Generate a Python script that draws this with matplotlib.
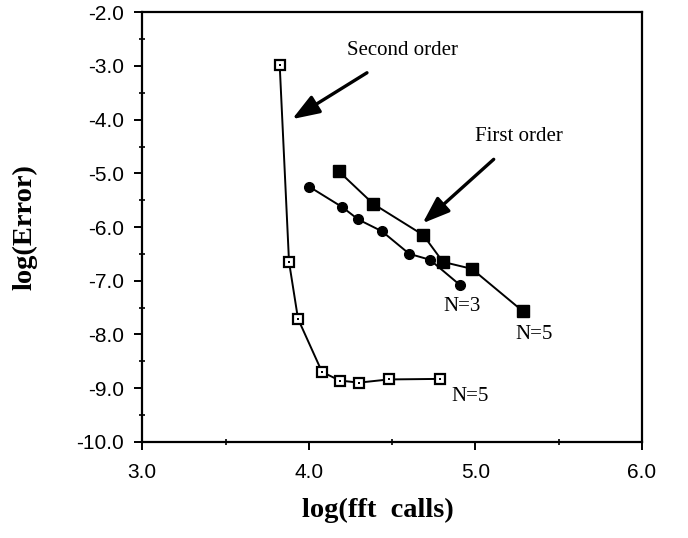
import matplotlib
matplotlib.use("Agg")
import matplotlib.pyplot as plt
from matplotlib.ticker import MultipleLocator, FormatStrFormatter

# Second order, N=5 (open squares)
second_x = [3.825, 3.881, 3.935, 4.079, 4.185, 4.300, 4.479, 4.787]
second_y = [-2.98, -6.65, -7.71, -8.70, -8.86, -8.90, -8.84, -8.83]

# First order, N=5 (filled squares)
first5_x = [4.179, 4.387, 4.687, 4.805, 4.979, 5.285]
first5_y = [-4.96, -5.57, -6.15, -6.65, -6.78, -7.57]

# First order, N=3 (filled circles)
first3_x = [4.003, 4.201, 4.297, 4.439, 4.603, 4.727, 4.907]
first3_y = [-5.25, -5.63, -5.86, -6.08, -6.50, -6.61, -7.08]

xlim = (3.0, 6.0)
ylim = (-10.0, -2.0)

fig = plt.figure(figsize=(6.88, 5.38), dpi=100)
ax = fig.add_axes([0.2068, 0.179, 0.7263, 0.7981])

lw = 1.4
ax.plot(second_x, second_y, color="black", lw=lw, marker="s", ms=7,
        mfc="white", mec="black", mew=1.6, zorder=3)
ax.plot(second_x, second_y, ls="none", marker="s", ms=2, mfc="black",
        mec="black", mew=0, zorder=4)
ax.plot(first5_x, first5_y, color="black", lw=lw, marker="s", ms=8,
        mfc="black", mec="black", zorder=3)
ax.plot(first3_x, first3_y, color="black", lw=lw, marker="o", ms=7,
        mfc="black", mec="black", zorder=3)

serif = ["Liberation Serif", "DejaVu Serif"]
sans = ["Liberation Sans", "DejaVu Sans"]

arrow = dict(arrowstyle="-|>,head_length=1.1,head_width=0.4",
             color="black", lw=2.4, shrinkB=0)
ax.annotate("Second order", xy=(3.90, -3.99), xytext=(4.56, -2.72),
            fontsize=15, family=serif, ha="center", va="center",
            arrowprops=dict(arrow, shrinkA=13))
ax.annotate("First order", xy=(4.683, -5.93), xytext=(5.26, -4.32),
            fontsize=15, family=serif, ha="center", va="center",
            arrowprops=dict(arrow, shrinkA=11))
ax.text(4.92, -7.49, "N=3", fontsize=15, family=serif, ha="center", va="center")
ax.text(5.35, -8.0, "N=5", fontsize=15, family=serif, ha="center", va="center")
ax.text(4.97, -9.16, "N=5", fontsize=15, family=serif, ha="center", va="center")

ax.set_xlim(*xlim)
ax.set_ylim(*ylim)
ax.xaxis.set_major_locator(MultipleLocator(1.0))
ax.xaxis.set_minor_locator(MultipleLocator(0.5))
ax.yaxis.set_major_locator(MultipleLocator(1.0))
ax.yaxis.set_minor_locator(MultipleLocator(0.5))
ax.xaxis.set_major_formatter(FormatStrFormatter("%.1f"))
ax.yaxis.set_major_formatter(FormatStrFormatter("%.1f"))
ax.tick_params(which="major", direction="out", length=6, width=1.4,
               labelsize=15)
ax.tick_params(axis="x", which="major", pad=9)
ax.tick_params(axis="y", which="major", pad=7)
ax.tick_params(which="minor", direction="inout", length=5, width=1.2)
for lab in ax.get_xticklabels() + ax.get_yticklabels():
    lab.set_family(sans)
for s in ax.spines.values():
    s.set_linewidth(1.6)

ax.set_xlabel("log(fft  calls)", fontsize=20.5, fontweight="bold", family=serif)
ax.set_ylabel("log(Error)", fontsize=20.5, fontweight="bold", family=serif)
ax.xaxis.set_label_coords(0.472, -0.159)
ax.yaxis.set_label_coords(-0.235, 0.5)
ax.xaxis.label.set_va("center")
ax.yaxis.label.set_va("center")

fig.savefig("out.png", dpi=100)
